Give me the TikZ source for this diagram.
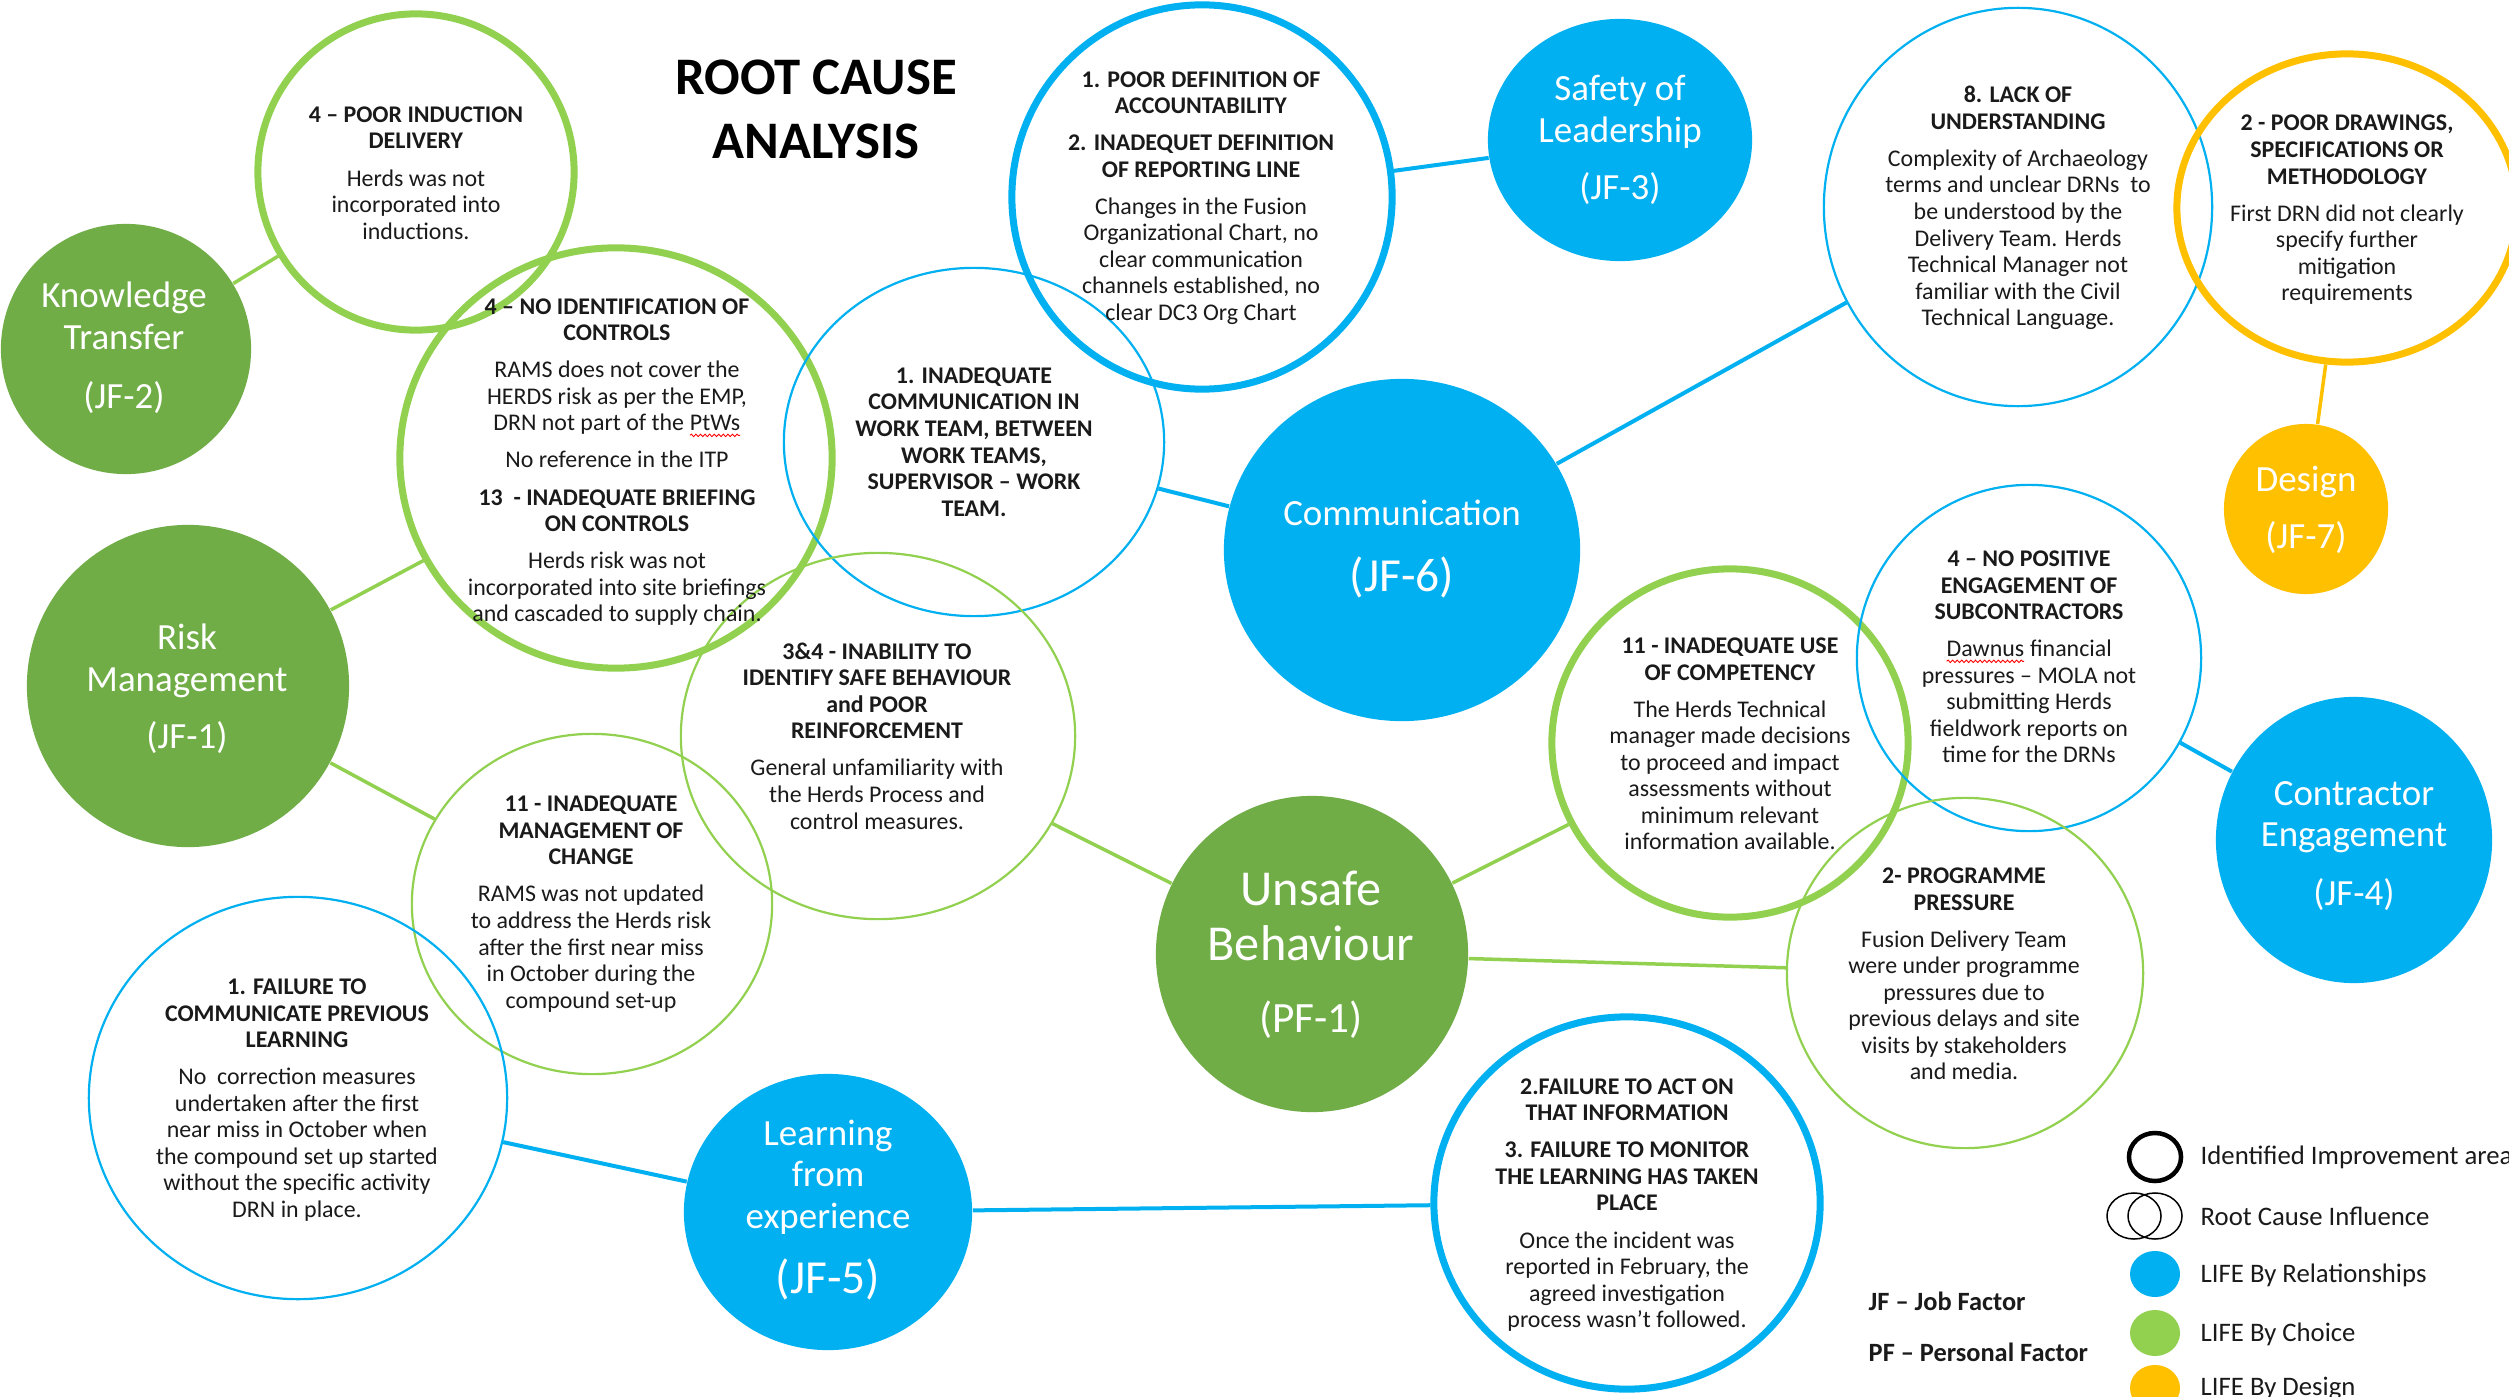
\documentclass[tikz,border=0pt]{standalone}
\usepackage{fontspec}
\setmainfont{Carlito}
\usetikzlibrary{shapes.geometric,decorations.pathmorphing}
\definecolor{cblue}{HTML}{00B0F0}
\definecolor{cgreen}{HTML}{70AD47}
\definecolor{lgreen}{HTML}{92D050}
\definecolor{corange}{HTML}{FFC000}
\definecolor{txt}{HTML}{1A1A1A}
\newcommand{\redwave}[1]{\tikz[baseline=(w.base),x=1cm,y=1cm]{\node[inner sep=0pt,outer sep=0pt] (w) {#1};\draw[red,line width=0.25pt,decorate,decoration={snake,amplitude=0.35pt,segment length=1.3pt}] ([yshift=-1.3pt]w.base west) -- ([yshift=-1.3pt]w.base east);}}
\begin{document}
\begin{tikzpicture}[x=0.01cm,y=-0.01cm,
  sz/.style 2 args={minimum width=#1*0.02cm, minimum height=#2*0.02cm},
  bubble/.style={ellipse, draw, inner sep=0pt},
  thickb/.style={bubble, line width=0.07cm},
  thinb/.style={bubble, line width=0.022cm},
  filled/.style={ellipse, inner sep=0pt, draw=none},
  body/.style={align=center, text=txt, font=\fontsize{6.8}{7.55}\selectfont, inner sep=0pt},
  big/.style={align=center, text=white, font=\fontsize{10.5}{11.8}\selectfont, inner sep=0pt},
  glink/.style={lgreen, line width=0.035cm},
  blink/.style={cblue, line width=0.04cm},
  olink/.style={corange, line width=0.035cm},
  legtxt/.style={anchor=west, text=txt, font=\fontsize{7.6}{9}\selectfont, inner sep=0pt},
  keytxt/.style={anchor=west, text=txt, font=\fontsize{7.5}{9}\selectfont\bfseries, inner sep=0pt}
]
\clip (0,0) rectangle (2509,1397);
\fill[white] (0,0) rectangle (2509,1397);

% ---------- filled factor nodes ----------
\node[filled, fill=cgreen, sz={125}{125}] (kt) at (126,349) {};
\node[filled, fill=cgreen, sz={161}{161}] (rm) at (188,686) {};
\node[filled, fill=cblue, sz={132}{121}] (sl) at (1620,140) {};
\node[filled, fill=cblue, sz={178}{171}] (co) at (1402,550) {};
\node[filled, fill=corange, sz={82}{85}] (de) at (2306,509) {};
\node[filled, fill=cblue, sz={138}{143}] (ce) at (2354,840) {};
\node[filled, fill=cgreen, sz={156}{158}] (ub) at (1312,954) {};
\node[filled, fill=cblue, sz={144}{138}] (lf) at (828,1212) {};

% ---------- outlined cause bubbles ----------
\node[thickb, draw=lgreen, sz={158}{158}] (pi) at (416,172) {};
\node[thickb, draw=lgreen, sz={216}{210}] (ni) at (616,458) {};
\node[thinb, draw=cblue, sz={190}{174}] (ic) at (974,442) {};
\node[thickb, draw=cblue, sz={190}{192}] (pd) at (1202,197) {};
\node[thinb, draw=cblue, sz={194}{199}] (lu) at (2018,207) {};
\node[thickb, draw=corange, sz={170}{154}] (dr) at (2347,208) {};
\node[thinb, draw=lgreen, sz={197}{183}] (sb) at (878,736) {};
\node[thinb, draw=lgreen, sz={180}{170}] (mc) at (592,904) {};
\node[thinb, draw=cblue, sz={209}{201}] (fc) at (298,1098) {};
\node[thickb, draw=lgreen, sz={178}{174}] (uc) at (1730,743) {};
\node[thinb, draw=cblue, sz={172}{173}] (np) at (2029,658) {};
\node[thinb, draw=lgreen, sz={178}{175}] (pp) at (1965,973) {};
\node[thickb, draw=cblue, sz={193}{186}] (fa) at (1627,1203) {};

% ---------- connectors ----------
\draw[glink] (kt) -- (pi);
\draw[glink] (rm) -- (ni);
\draw[glink] (rm) -- (mc);
\draw[glink] (ub) -- (sb);
\draw[glink] (ub) -- (uc);
\draw[glink] (ub) -- (pp);
\draw[blink] (sl) -- (pd);
\draw[blink] (co) -- (ic);
\draw[blink] (co) -- (lu);
\draw[blink] (ce) -- (np);
\draw[blink] (lf) -- (fc);
\draw[blink] (lf) -- (fa);
\draw[olink] (de) -- (dr);

% ---------- title ----------
\node[align=center, text=black, font=\fontsize{15}{18.2}\selectfont\bfseries, inner sep=0pt] (title) at (816,109) {ROOT CAUSE\\ANALYSIS};

% ---------- factor labels ----------
\node[big] (ktt) at (124,348) {Knowledge\\Transfer\\[5pt](JF-2)};
\node[big] (rmt) at (187,689) {Risk\\Management\\[4.5pt](JF-1)};
\node[big] (slt) at (1620,140) {Safety of\\Leadership\\[4.5pt](JF-3)};
\node[big] (cot) at (1402,549) {Communication\\[6.7pt]{\fontsize{13.5}{15}\selectfont (JF-6)}};
\node[big] (det) at (2306,510) {Design\\[4.5pt](JF-7)};
\node[big] (cet) at (2354,846) {Contractor\\Engagement\\[4.9pt](JF-4)};
\node[big] (lft) at (828,1210) {Learning\\from\\experience\\[6.7pt]{\fontsize{13.5}{15}\selectfont (JF-5)}};
\node[big, font=\fontsize{14.3}{15.6}\selectfont] (ubt) at (1311,955) {Unsafe\\Behaviour\\[5pt]{\fontsize{12.3}{14}\selectfont (PF-1)}};

% ---------- cause texts ----------
\node[body] (pit) at (416,173) {\textbf{4 – POOR INDUCTION}\\\textbf{DELIVERY}\\[3pt]Herds was not\\incorporated into\\inductions.};
\node[body] (nit) at (617,462) {\textbf{4 – NO IDENTIFICATION OF}\\\textbf{CONTROLS}\\[3pt]RAMS does not cover the\\HERDS risk as per the EMP,\\DRN not part of the \redwave{PtWs}\\[3pt]No reference in the ITP\\[3pt]\textbf{13\ \ - INADEQUATE BRIEFING}\\\textbf{ON CONTROLS}\\[3pt]Herds risk was not\\incorporated into site briefings\\and cascaded to supply chain.};
\node[body, font=\fontsize{6.8}{7.55}\selectfont\bfseries] (ict) at (974,442) {1. INADEQUATE\\COMMUNICATION IN\\WORK TEAM, BETWEEN\\WORK TEAMS,\\SUPERVISOR – WORK\\TEAM.};
\node[body] (pdt) at (1201,198) {\textbf{1. POOR DEFINITION OF}\\\textbf{ACCOUNTABILITY}\\[3pt]\textbf{2. INADEQUET DEFINITION}\\\textbf{OF REPORTING LINE}\\[3pt]Changes in the Fusion\\Organizational Chart, no\\clear communication\\channels established, no\\clear DC3 Org Chart};
\node[body] (lut) at (2018,208) {\textbf{8. LACK OF}\\\textbf{UNDERSTANDING}\\[3pt]Complexity of Archaeology\\terms and unclear DRNs\ \ to\\be understood by the\\Delivery Team. Herds\\Technical Manager not\\familiar with the Civil\\Technical Language.};
\node[body] (drt) at (2347,210) {\textbf{2 - POOR DRAWINGS,}\\\textbf{SPECIFICATIONS OR}\\\textbf{METHODOLOGY}\\[3pt]First DRN did not clearly\\specify further\\mitigation\\requirements};
\node[body] (sbt) at (877,736) {\textbf{3\&4 - INABILITY TO}\\\textbf{IDENTIFY SAFE BEHAVIOUR}\\\textbf{and POOR}\\\textbf{REINFORCEMENT}\\[3pt]General unfamiliarity with\\the Herds Process and\\control measures.};
\node[body] (mct) at (591,904) {\textbf{11 - INADEQUATE}\\\textbf{MANAGEMENT OF}\\\textbf{CHANGE}\\[3pt]RAMS was not updated\\to address the Herds risk\\after the first near miss\\in October during the\\compound set-up};
\node[body] (fct) at (297,1100) {\textbf{1. FAILURE TO}\\\textbf{COMMUNICATE PREVIOUS}\\\textbf{LEARNING}\\[3pt]No\ \ correction measures\\undertaken after the first\\near miss in October when\\the compound set up started\\without the specific activity\\DRN in place.};
\node[body] (uct) at (1730,744) {\textbf{11 - INADEQUATE USE}\\\textbf{OF COMPETENCY}\\[3pt]The Herds Technical\\manager made decisions\\to proceed and impact\\assessments without\\minimum relevant\\information available.};
\node[body] (npt) at (2029,657) {\textbf{4 – NO POSITIVE}\\\textbf{ENGAGEMENT OF}\\\textbf{SUBCONTRACTORS}\\[3pt]\redwave{Dawnus} financial\\pressures – MOLA not\\submitting Herds\\fieldwork reports on\\time for the DRNs};
\node[body] (ppt) at (1964,974) {\textbf{2- PROGRAMME}\\\textbf{PRESSURE}\\[3pt]Fusion Delivery Team\\were under programme\\pressures due to\\previous delays and site\\visits by stakeholders\\and media.};
\node[body] (fat) at (1627,1205) {\textbf{2.FAILURE TO ACT ON}\\\textbf{THAT INFORMATION}\\[3pt]\textbf{3. FAILURE TO MONITOR}\\\textbf{THE LEARNING HAS TAKEN}\\\textbf{PLACE}\\[3pt]Once the incident was\\reported in February, the\\agreed investigation\\process wasn’t followed.};

% ---------- key ----------
\node[keytxt] (jf) at (1868,1301) {JF – Job Factor};
\node[keytxt] (pf) at (1868,1352) {PF – Personal Factor};

% ---------- legend ----------
\node[bubble, draw=black, line width=0.045cm, sz={26}{24}] (lg1) at (2155,1157) {};
\node[bubble, draw=black, line width=0.015cm, sz={27}{23}] (lg2a) at (2134,1216) {};
\node[bubble, draw=black, line width=0.015cm, sz={27}{23}] (lg2b) at (2155,1216) {};
\node[filled, fill=cblue, sz={25}{23}] (lg3) at (2155,1274) {};
\node[filled, fill=lgreen, sz={25}{23}] (lg4) at (2155,1333) {};
\node[filled, fill=corange, sz={25}{23}] (lg5) at (2155,1388) {};
\node[legtxt] (l1) at (2200,1157) {Identified Improvement area};
\node[legtxt] (l2) at (2200,1216) {Root Cause Influence};
\node[legtxt] (l3) at (2200,1275) {LIFE By Relationships};
\node[legtxt] (l4) at (2200,1334) {LIFE By Choice};
\node[legtxt] (l5) at (2200,1389) {LIFE By Design};
\end{tikzpicture}
\end{document}
